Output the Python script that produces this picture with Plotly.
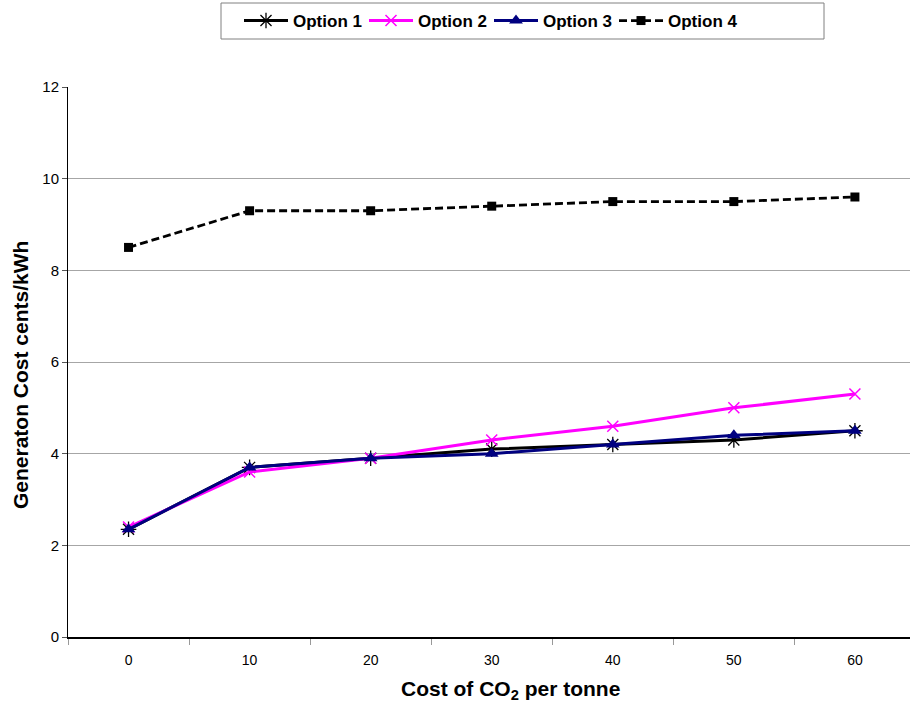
import plotly.graph_objects as go

# Carbon price scenarios (cost of CO2 per tonne)
co2_cost = ["0", "10", "20", "30", "40", "50", "60"]

# Generation cost in cents/kWh for each option
option_1 = [2.35, 3.7, 3.9, 4.1, 4.2, 4.3, 4.5]
option_2 = [2.4, 3.6, 3.9, 4.3, 4.6, 5.0, 5.3]
option_3 = [2.35, 3.7, 3.9, 4.0, 4.2, 4.4, 4.5]
option_4 = [8.5, 9.3, 9.3, 9.4, 9.5, 9.5, 9.6]

series = [
    ("Option 1", option_1, dict(color="#000000", width=3),
     dict(symbol="asterisk-open", size=13, color="#000000", line=dict(color="#000000", width=1.3))),
    ("Option 2", option_2, dict(color="#FF00FF", width=3),
     dict(symbol="x-thin-open", size=11, color="#FF00FF", line=dict(color="#FF00FF", width=1.5))),
    ("Option 3", option_3, dict(color="#000080", width=3),
     dict(symbol="triangle-up", size=12, color="#000080", line=dict(width=0))),
    ("Option 4", option_4, dict(color="#000000", width=2.8, dash="8px,4px"),
     dict(symbol="square", size=9, color="#000000", line=dict(width=0))),
]

fig = go.Figure()
for name, values, line, marker in series:
    fig.add_trace(go.Scatter(
        x=co2_cost, y=values, name=name, mode="lines+markers",
        line=line, marker=marker,
    ))

font_family = "Liberation Sans, Arial, sans-serif"

# plot area geometry in pixels (used to place the legend frame and titles)
W, H = 910, 702
L, T, B = 68, 87, 65
PW, PH = W - L, H - T - B


def px_x(x):
    return (x - L) / PW


def px_y(y):
    return (H - B - y) / PH


fig.update_layout(
    width=W, height=H,
    margin=dict(l=L, r=0, t=T, b=B),
    paper_bgcolor="white", plot_bgcolor="white",
    font=dict(family=font_family, color="#000000"),
    showlegend=True,
    legend=dict(
        orientation="h",
        xref="container", yref="container",
        x=239 / W, y=1 - 3 / H, xanchor="left", yanchor="top",
        font=dict(size=17, family=font_family, weight="bold"),
        borderwidth=0, bgcolor="rgba(0,0,0,0)",
        itemwidth=44, entrywidth=66, entrywidthmode="pixels",
    ),
    shapes=[
        dict(type="rect", xref="paper", yref="paper",
             x0=px_x(221), x1=px_x(824), y0=px_y(39), y1=px_y(3),
             line=dict(color="#808080", width=1), fillcolor="white", layer="below"),
    ],
    xaxis=dict(
        type="category",
        range=[-0.5, 6.455],
        tickson="boundaries",
        ticks="outside", ticklen=6, tickcolor="#999999", tickwidth=1,
        showgrid=False,
        showline=True, linecolor="#000000", linewidth=2,
        tickfont=dict(size=14, family=font_family),
        ticklabelstandoff=9,
        zeroline=False,
    ),
    yaxis=dict(
        range=[0, 12], dtick=2,
        ticks="outside", ticklen=5, tickcolor="#555555", tickwidth=1,
        showgrid=True, gridcolor="#a6a6a6", gridwidth=1,
        showline=True, linecolor="#000000", linewidth=1,
        tickfont=dict(size=15, family=font_family),
        zeroline=False,
    ),
    annotations=[
        dict(text="Cost of CO<sub>2</sub> per tonne", xref="paper", yref="paper",
             x=px_x(510), y=px_y(690), xanchor="center", yanchor="middle",
             showarrow=False, font=dict(size=21, family=font_family, weight="bold")),
        dict(text="Generaton Cost cents/kWh", xref="paper", yref="paper",
             x=px_x(20), y=px_y(375), xanchor="center", yanchor="middle",
             textangle=-90, showarrow=False,
             font=dict(size=21, family=font_family, weight="bold")),
    ],
)

fig.write_html("out.html")
